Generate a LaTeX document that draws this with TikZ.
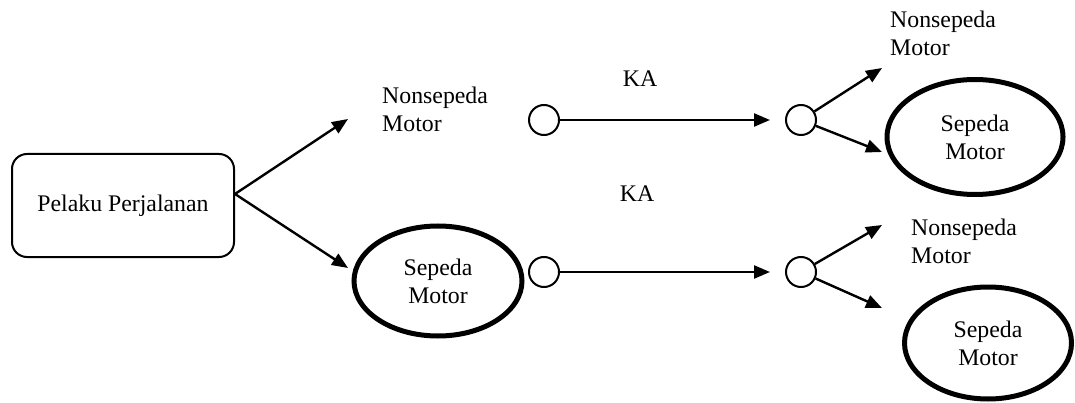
\documentclass[tikz,border=0pt]{standalone}
\usepackage{fontspec}
\setmainfont{Liberation Serif}
\usepackage{tikz}
\usetikzlibrary{shapes.geometric,arrows.meta,positioning}

\begin{document}
\begin{tikzpicture} [
      x = 1pt, y = -1pt,
      inner sep = 0,
      every node/.style = { font = \fontsize{23.8}{28}\selectfont },
      choice/.style = { align = left, anchor = north west },
      bike/.style = { draw, ellipse, line width = 5pt, align = center },
      hub/.style = { draw, circle, line width = 2pt, minimum size = 30pt },
      flow/.style = { line width = 2.4pt, -{Triangle[length = 16pt, width = 13pt]} }
      ]
      \useasboundingbox (0, 0) rectangle (1075, 403);

      \node [draw, rounded corners = 15pt, line width = 2pt, minimum width = 222pt, minimum height = 103pt] (pp) at (123, 205.5) {Pelaku Perjalanan};
      \node [choice] (ns1) at (382, 86.7) {Nonsepeda\\Motor};
      \node [bike, minimum width = 168pt, minimum height = 110pt] (sm1) at (438, 281) {Sepeda\\Motor};
      \node [hub] (c1) at (544, 120) {};
      \node [hub] (c2) at (544, 272) {};
      \node [hub] (c3) at (801, 120) {};
      \node [hub] (c4) at (801, 272) {};
      \node [anchor = base] (ka1) at (640, 87) {KA};
      \node [anchor = base] (ka2) at (637, 202) {KA};
      \node [choice] (ns2) at (890, 10.7) {Nonsepeda\\Motor};
      \node [bike, minimum width = 176pt, minimum height = 115pt] (sm2) at (975, 137) {Sepeda\\Motor};
      \node [choice] (ns3) at (911, 218.7) {Nonsepeda\\Motor};
      \node [bike, minimum width = 167pt, minimum height = 112pt] (sm3) at (988, 343) {Sepeda\\Motor};

      \coordinate (t1) at (348, 119);
      \coordinate (t2) at (348, 268);
      \coordinate (t3) at (882, 68);
      \coordinate (t4) at (882, 152);
      \coordinate (t5) at (882, 225);
      \coordinate (t6) at (882, 308);

      \draw [flow] ([yshift = 11.5pt] pp.east) -- (t1);
      \draw [flow] ([yshift = 11.5pt] pp.east) -- (t2);
      \draw [flow, shorten > = 15pt] (c1) -- (c3);
      \draw [flow, shorten > = 15pt] (c2) -- (c4);
      \draw [flow] (c3) -- (t3);
      \draw [flow] (c3) -- (t4);
      \draw [flow] (c4) -- (t5);
      \draw [flow] (c4) -- (t6);
    \end{tikzpicture}
\end{document}
